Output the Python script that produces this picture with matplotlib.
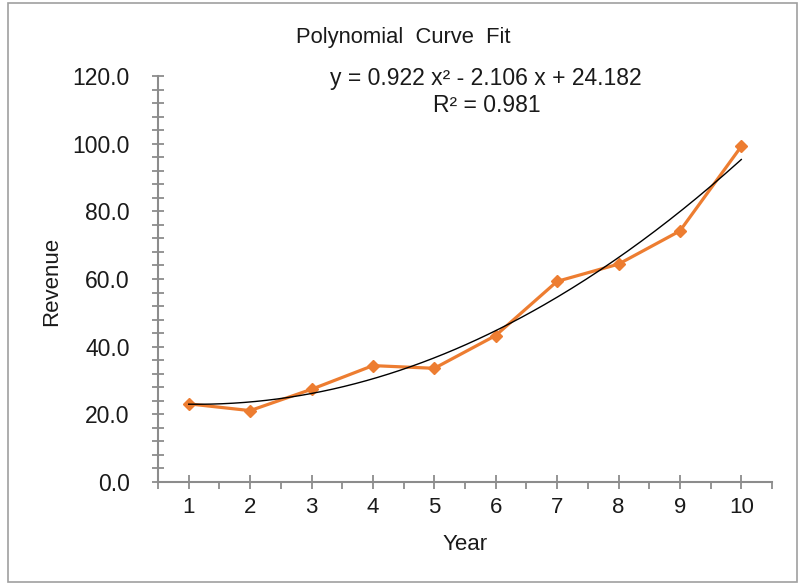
import numpy as np
import matplotlib
matplotlib.use("Agg")
import matplotlib.pyplot as plt
from matplotlib.patches import Rectangle
from matplotlib.ticker import MultipleLocator, FixedLocator

plt.rcParams['font.family'] = ['Liberation Sans', 'DejaVu Sans']

years = [1, 2, 3, 4, 5, 6, 7, 8, 9, 10]
revenue = [23.1, 21.1, 27.4, 34.4, 33.6, 43.3, 59.3, 64.4, 74.2, 99.2]
fit_coeffs = [0.922, -2.106, 24.182]
r_squared = 0.981
title = "Polynomial  Curve  Fit"
x_label = "Year"
y_label = "Revenue"

fig = plt.figure(figsize=(7.98, 5.83), dpi=100)
ax = fig.add_axes([158/798, 1 - 482/583, (772 - 158)/798, (482 - 76)/583])

text_color = '#1a1a1a'
axis_color = '#8c8c8c'
orange = '#ED7D31'

xs = np.linspace(min(years), max(years), 200)
ax.plot(xs, np.polyval(fit_coeffs, xs), color='black', lw=1.0, zorder=3)
ax.plot(years, revenue, color=orange, lw=2.3, marker='D', markersize=6.5,
        markeredgecolor=orange, zorder=2)

ax.set_xlim(0.5, 10.5)
ax.set_ylim(0, 120)
ax.xaxis.set_major_locator(FixedLocator(years))
ax.xaxis.set_minor_locator(FixedLocator([0.5 + i for i in range(11)]))
ax.yaxis.set_major_locator(MultipleLocator(20))
ax.yaxis.set_minor_locator(MultipleLocator(4))
ax.yaxis.set_major_formatter(matplotlib.ticker.FormatStrFormatter('%.1f'))

for s in ['top', 'right']:
    ax.spines[s].set_visible(False)
for s in ['left', 'bottom']:
    ax.spines[s].set_color(axis_color)
    ax.spines[s].set_linewidth(1.5)

ax.tick_params(axis='x', which='major', direction='inout', length=10, width=1.3,
               color=axis_color, labelsize=16, labelcolor=text_color, pad=6)
ax.tick_params(axis='x', which='minor', direction='out', length=5, width=1.3,
               color=axis_color)
ax.tick_params(axis='y', which='both', direction='inout', length=9, width=1.3,
               color=axis_color, labelsize=16.5, labelcolor=text_color, pad=16)

fig.text(403/798, 1 - 38/583, title, ha='center', va='center', fontsize=15.8,
         color=text_color)
fig.text(486/798, 1 - 79/583,
         f"y = {fit_coeffs[0]:.3f} x\u00b2 - {abs(fit_coeffs[1]):.3f} x + {fit_coeffs[2]:.3f}",
         ha='center', va='center', fontsize=16.5, color=text_color)
fig.text(487/798, 1 - 105/583, f"R\u00b2 = {r_squared:.3f}", ha='center',
         va='center', fontsize=16.5, color=text_color)
fig.text(465/798, 1 - 545/583, x_label, ha='center', va='center', fontsize=16,
         color=text_color)
fig.text(52/798, 1 - 281/583, y_label, ha='center', va='center', fontsize=16,
         color=text_color, rotation=90)

fig.patches.append(Rectangle((8/798, 1 - 582/583), 789/798, 579/583,
                             transform=fig.transFigure, fill=False,
                             edgecolor='#a0a0a0', lw=1.2))

fig.savefig('out.png', dpi=100)
